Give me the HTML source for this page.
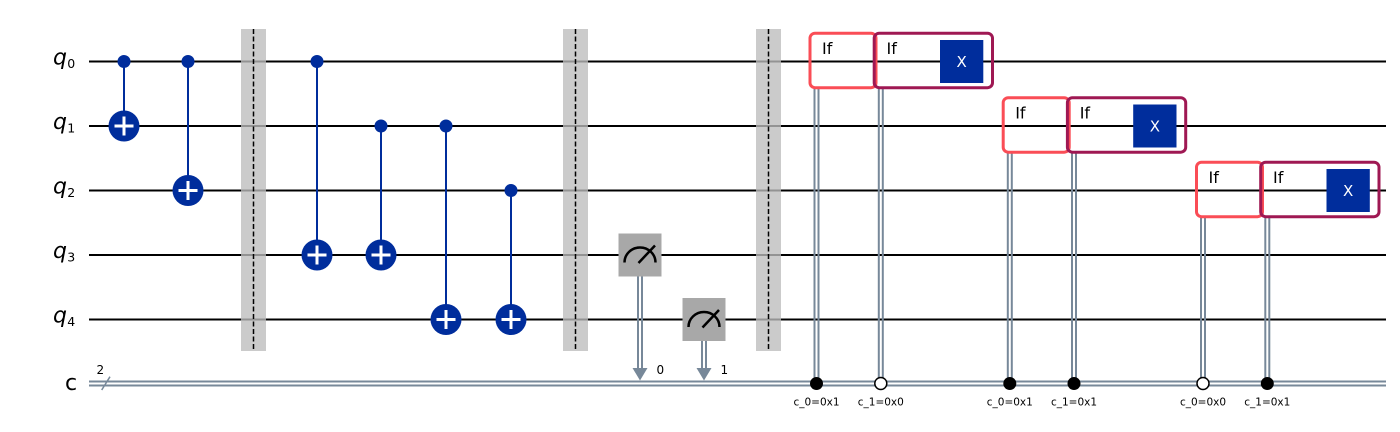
<!DOCTYPE html>
<html><head><meta charset="utf-8"><style>
html,body{margin:0;padding:0;background:#fff;}
svg{display:block;}
text{font-family:"DejaVu Sans","Liberation Sans",sans-serif;}
</style></head><body>
<svg width="1400" height="432" viewBox="0 0 1400 432" xmlns="http://www.w3.org/2000/svg">
<rect width="1400" height="432" fill="#fff"/>
<!-- qubit wires -->
<g stroke="#000" stroke-width="2">
<line x1="89" y1="61.5" x2="1386" y2="61.5"/>
<line x1="89" y1="126" x2="1386" y2="126"/>
<line x1="89" y1="190.5" x2="1386" y2="190.5"/>
<line x1="89" y1="255" x2="1386" y2="255"/>
<line x1="89" y1="319.5" x2="1386" y2="319.5"/>
</g>
<!-- classical wire -->
<g stroke="#778899" stroke-width="2">
<line x1="89" y1="381.5" x2="1386" y2="381.5"/>
<line x1="89" y1="385.5" x2="1386" y2="385.5"/>
</g>
<line x1="101.7" y1="390" x2="110" y2="376.7" stroke="#778899" stroke-width="1.5"/>
<text x="96.5" y="374" font-size="12" fill="#000">2</text>
<!-- labels -->
<g font-size="22" font-style="italic" fill="#000">
<text x="53" y="64.5">q</text>
<text x="53" y="129">q</text>
<text x="53" y="193.5">q</text>
<text x="53" y="258">q</text>
<text x="53" y="322.5">q</text>
</g>
<g font-size="12.5" fill="#000">
<text x="67.3" y="68">0</text>
<text x="67.3" y="132.5">1</text>
<text x="67.3" y="197">2</text>
<text x="67.3" y="261.5">3</text>
<text x="67.3" y="326">4</text>
</g>
<text x="65" y="390" font-size="22" fill="#000">c</text>

<!-- barriers -->
<g>
<rect x="241" y="29" width="25" height="322" fill="#bdbdbd" fill-opacity="0.78"/>
<line x1="253.5" y1="29" x2="253.5" y2="351" stroke="#000" stroke-width="1.5" stroke-dasharray="5,2.5"/>
<rect x="563" y="29" width="25" height="322" fill="#bdbdbd" fill-opacity="0.78"/>
<line x1="575.5" y1="29" x2="575.5" y2="351" stroke="#000" stroke-width="1.5" stroke-dasharray="5,2.5"/>
<rect x="756" y="29" width="25" height="322" fill="#bdbdbd" fill-opacity="0.78"/>
<line x1="768.5" y1="29" x2="768.5" y2="351" stroke="#000" stroke-width="1.5" stroke-dasharray="5,2.5"/>
</g>

<!-- CNOTs -->
<g stroke="#002d9c" stroke-width="2">
<line x1="124" y1="61.5" x2="124" y2="126"/>
<line x1="188" y1="61.5" x2="188" y2="190.5"/>
<line x1="317" y1="61.5" x2="317" y2="255"/>
<line x1="381" y1="126" x2="381" y2="255"/>
<line x1="446" y1="126" x2="446" y2="319.5"/>
<line x1="511" y1="190.5" x2="511" y2="319.5"/>
</g>
<g fill="#002d9c">
<circle cx="124" cy="61.5" r="6.5"/>
<circle cx="188" cy="61.5" r="6.5"/>
<circle cx="317" cy="61.5" r="6.5"/>
<circle cx="381" cy="126" r="6.5"/>
<circle cx="446" cy="126" r="6.5"/>
<circle cx="511" cy="190.5" r="6.5"/>
<circle cx="124" cy="126" r="15.5"/>
<circle cx="188" cy="190.5" r="15.5"/>
<circle cx="317" cy="255" r="15.5"/>
<circle cx="381" cy="255" r="15.5"/>
<circle cx="446" cy="319.5" r="15.5"/>
<circle cx="511" cy="319.5" r="15.5"/>
</g>
<g stroke="#fff" stroke-width="3">
<line x1="114.5" y1="126" x2="133.5" y2="126"/><line x1="124" y1="116.5" x2="124" y2="135.5"/>
<line x1="178.5" y1="190.5" x2="197.5" y2="190.5"/><line x1="188" y1="181" x2="188" y2="200"/>
<line x1="307.5" y1="255" x2="326.5" y2="255"/><line x1="317" y1="245.5" x2="317" y2="264.5"/>
<line x1="371.5" y1="255" x2="390.5" y2="255"/><line x1="381" y1="245.5" x2="381" y2="264.5"/>
<line x1="436.5" y1="319.5" x2="455.5" y2="319.5"/><line x1="446" y1="310" x2="446" y2="329"/>
<line x1="501.5" y1="319.5" x2="520.5" y2="319.5"/><line x1="511" y1="310" x2="511" y2="329"/>
</g>

<!-- measurements -->
<g stroke="#778899" stroke-width="2">
<line x1="638" y1="276" x2="638" y2="369"/>
<line x1="642" y1="276" x2="642" y2="369"/>
<line x1="702" y1="341" x2="702" y2="369"/>
<line x1="706" y1="341" x2="706" y2="369"/>
</g>
<polygon points="632.5,368 647.5,368 640,380.5" fill="#778899"/>
<polygon points="696.5,368 711.5,368 704,380.5" fill="#778899"/>
<rect x="618.5" y="233.5" width="43" height="43" fill="#a8a8a8"/>
<rect x="682.5" y="298" width="43" height="43" fill="#a8a8a8"/>
<g stroke="#000" stroke-width="2.5" fill="none">
<path d="M 624.5 262.5 A 15.5 15 0 0 1 655.5 262.5"/>
<line x1="638.5" y1="263" x2="655" y2="245.5"/>
<path d="M 688.5 327 A 15.5 15 0 0 1 719.5 327"/>
<line x1="702.5" y1="327.5" x2="719" y2="310"/>
</g>
<text x="656.5" y="374" font-size="12" fill="#000">0</text>
<text x="720.5" y="374" font-size="12" fill="#000">1</text>

<!-- If group classical links -->
<g stroke="#778899" stroke-width="2">
<line x1="814.5" y1="88" x2="814.5" y2="383"/><line x1="818.5" y1="88" x2="818.5" y2="383"/>
<line x1="878.8" y1="88" x2="878.8" y2="383"/><line x1="882.8" y1="88" x2="882.8" y2="383"/>
<line x1="1007.8" y1="152.5" x2="1007.8" y2="383"/><line x1="1011.8" y1="152.5" x2="1011.8" y2="383"/>
<line x1="1072" y1="152.5" x2="1072" y2="383"/><line x1="1076" y1="152.5" x2="1076" y2="383"/>
<line x1="1201" y1="217" x2="1201" y2="383"/><line x1="1205" y1="217" x2="1205" y2="383"/>
<line x1="1265.3" y1="217" x2="1265.3" y2="383"/><line x1="1269.3" y1="217" x2="1269.3" y2="383"/>
</g>
<circle cx="816.5" cy="383.5" r="6.5" fill="#000"/>
<circle cx="880.8" cy="383.5" r="6" fill="#fff" stroke="#000" stroke-width="1.5"/>
<circle cx="1009.8" cy="383.5" r="6.5" fill="#000"/>
<circle cx="1074" cy="383.5" r="6.5" fill="#000"/>
<circle cx="1203" cy="383.5" r="6" fill="#fff" stroke="#000" stroke-width="1.5"/>
<circle cx="1267.3" cy="383.5" r="6.5" fill="#000"/>
<g font-size="10.5" fill="#000" text-anchor="middle">
<text x="816.5" y="405.5">c_0=0x1</text>
<text x="880.8" y="405.5">c_1=0x0</text>
<text x="1009.8" y="405.5">c_0=0x1</text>
<text x="1074" y="405.5">c_1=0x1</text>
<text x="1203" y="405.5">c_0=0x0</text>
<text x="1267.3" y="405.5">c_1=0x1</text>
</g>

<!-- If boxes -->
<g fill="none" stroke-width="3">
<rect x="810" y="33.2" width="66" height="54.5" rx="5" stroke="#fa4d56"/>
<rect x="874.2" y="33.2" width="118.3" height="54.5" rx="5" stroke="#9f1853"/>
<rect x="1003.2" y="97.7" width="66" height="54.5" rx="5" stroke="#fa4d56"/>
<rect x="1067.4" y="97.7" width="118.3" height="54.5" rx="5" stroke="#9f1853"/>
<rect x="1196.5" y="162.2" width="66" height="54.5" rx="5" stroke="#fa4d56"/>
<rect x="1260.7" y="162.2" width="118.3" height="54.5" rx="5" stroke="#9f1853"/>
</g>
<g fill="#002d9c">
<rect x="940" y="40" width="43.3" height="43"/>
<rect x="1133.2" y="104.5" width="43.3" height="43"/>
<rect x="1326.5" y="169" width="43.3" height="43"/>
</g>
<g font-size="15" fill="#fff" text-anchor="middle">
<text x="961.7" y="67">X</text>
<text x="1154.9" y="131.5">X</text>
<text x="1348.1" y="196">X</text>
</g>
<g font-size="16" fill="#000">
<text x="822" y="54">If</text>
<text x="886.5" y="54">If</text>
<text x="1015.2" y="118.5">If</text>
<text x="1079.7" y="118.5">If</text>
<text x="1208.5" y="183">If</text>
<text x="1273" y="183">If</text>
</g>
</svg>
</body></html>
